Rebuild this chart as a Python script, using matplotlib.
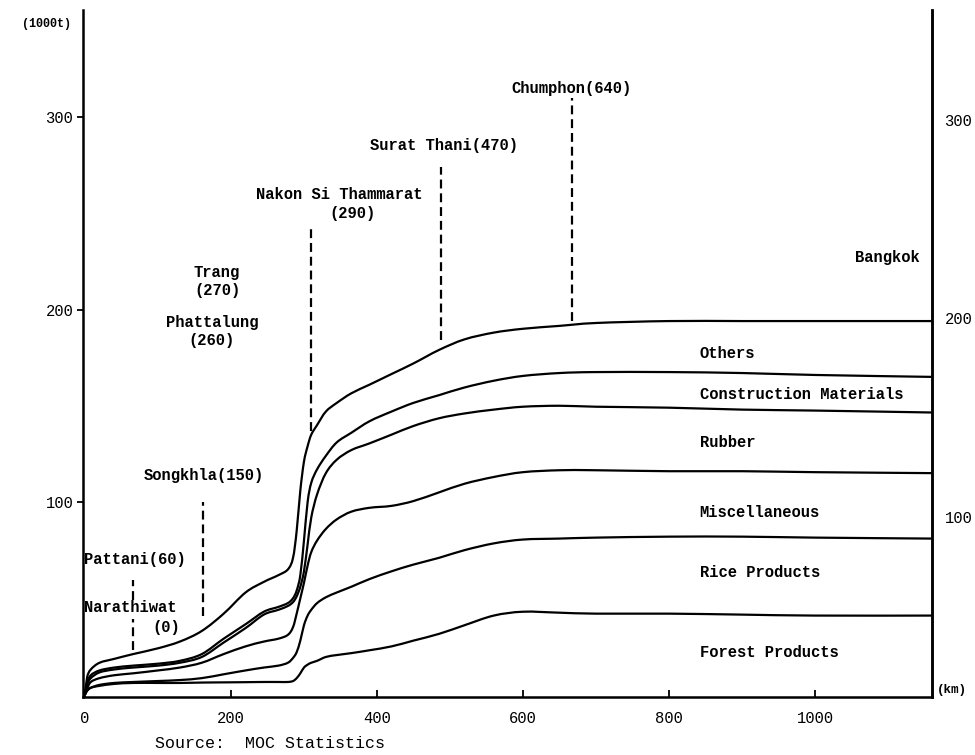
"""
Cumulative freight flow along the southern line, Narathiwat -> Bangkok.
Saves out.png (975x755).
"""

import matplotlib.pyplot as plt
import matplotlib as mpl
import numpy as np
from matplotlib.path import Path
from matplotlib.patches import PathPatch

mpl.rcParams["font.family"] = ["Liberation Mono", "DejaVu Sans Mono"]

# distance from Narathiwat (km), shared by all cumulative curves
km = [0, 3, 8, 20, 40, 66, 100, 130, 160, 190, 220, 245, 265, 278, 285, 290,
      295, 300, 305, 310, 318, 330, 345, 365, 390, 420, 450, 485, 520, 560,
      600, 650, 700, 800, 900, 1000, 1160]

# cumulative tonnage (1000 t), top edge of each commodity band
others = [0, 9, 13, 16.5, 18.5, 21, 24, 27.5, 33, 42, 53, 58.5, 62, 65, 71, 85,
          106, 121, 129, 135, 140, 147, 151.5, 156.5, 161, 166.5, 172, 179, 184.5, 188,
          190, 191.5, 193, 194, 194, 194, 194]
construction = [0, 6, 10, 12.5, 14, 15, 16, 17.5, 21, 29, 36.5, 43, 45.5, 47.5, 50, 54,
                62, 80, 100, 110, 117, 124, 131, 136, 142, 147, 151.5, 155.5, 159.5, 163,
                165.5, 167, 167.5, 167.5, 167, 166, 165]
rubber = [0, 5, 8.5, 11.5, 13, 14, 15, 16.5, 19.5, 27, 34.5, 41.5, 44, 46, 48, 51,
          56, 64, 78, 92, 104, 115, 122, 127, 130.5, 135, 139.5, 143.5, 146, 148,
          149.5, 150, 149.5, 149, 148, 147.5, 146.5]
misc = [0, 3, 6.5, 8.5, 10, 11, 12.5, 14, 16.5, 21, 25, 27.5, 29, 31, 35, 42,
        50, 58, 67, 74, 80, 86, 91, 95, 97, 98, 100.5, 105, 109.5, 113,
        115.5, 116.5, 116.5, 116, 116, 115.5, 115]
rice = [0, 2, 3.5, 5, 6, 6.5, 7, 7.5, 8.5, 10.5, 12.5, 14, 15, 16.5, 19, 22,
        28, 36, 41, 44, 47.5, 50.5, 53, 56, 60, 64, 67.5, 71, 75, 78.5,
        80.5, 81, 81.5, 82, 82, 81.5, 81]
forest = [0, 2, 3.5, 4.5, 5.5, 6, 6, 6, 6.2, 6.3, 6.4, 6.5, 6.5, 6.5, 7, 8.5,
          11, 14, 15.5, 16.5, 17.5, 19.5, 20.5, 21.5, 23, 25, 28, 31.5, 36, 41,
          43, 42.5, 42, 42, 41.5, 41, 41]

band_names = ["Others", "Construction Materials", "Rubber",
              "Miscellaneous", "Rice Products", "Forest Products"]
band_label_y = [177, 156, 131, 94.5, 63.4, 21.9]

# stations marked with dashed lines (Pattani's line is broken by the Narathiwat label)
town_km = [66, 66, 162, 310, 488, 667]
dash_top = [59.5, 39, 100, 243, 274, 310]
dash_bot = [49, 23, 41, 137, 184, 194]

FS = 11.2


def smooth_path(xs, ys):
    # Catmull-Rom through the points, drawn as cubic Bezier segments
    p = np.column_stack([xs, ys]).astype(float)
    p_ext = np.vstack([p[0], p, p[-1]])
    verts = [p[0]]
    codes = [Path.MOVETO]
    for i in range(1, len(p_ext) - 2):
        p0, p1, p2, p3 = p_ext[i - 1], p_ext[i], p_ext[i + 1], p_ext[i + 2]
        c1 = p1 + (p2 - p0) / 6
        c2 = p2 - (p3 - p1) / 6
        verts += [c1, c2, p2]
        codes += [Path.CURVE4] * 3
    return Path(verts, codes)


fig = plt.figure(figsize=(9.75, 7.55), dpi=100)
ax = fig.add_axes([83 / 975, 1 - 697 / 755, (932 - 83) / 975, (697 - 10) / 755])

for ys in [others, construction, rubber, misc, rice, forest]:
    ax.add_patch(PathPatch(smooth_path(km, ys), facecolor="none",
                           edgecolor="black", lw=1.6))

for x, y0, y1 in zip(town_km, dash_bot, dash_top):
    ax.plot([x, x], [y0, y1], color="black", lw=1.6, linestyle=(0, (4, 2.2)))

ax.set_xlim(-2.7, 1160.3)
ax.set_ylim(-1.3, 355.6)

ax.spines["top"].set_visible(False)
for s in ["left", "right", "bottom"]:
    ax.spines[s].set_linewidth(1.8)

ax.set_xticks([0, 200, 400, 600, 800, 1000])
ax.tick_params(axis="x", direction="in", length=5, width=1.3, pad=10, labelsize=FS)
ax.set_yticks([100, 200, 300])
ax.tick_params(axis="y", direction="out", length=4, width=1.3, pad=3, labelsize=FS)

ax2 = ax.twinx()
ax2.set_ylim(9.3, 355.4)
ax2.set_yticks([100, 200, 300])
ax2.tick_params(axis="y", direction="out", length=0, pad=9, labelsize=FS)
for s in ["top", "left", "bottom"]:
    ax2.spines[s].set_visible(False)
ax2.spines["right"].set_linewidth(1.8)

txt = dict(fontsize=FS, fontweight="bold", color="black")
for name, y in zip(band_names, band_label_y):
    ax.text(842, y, name, ha="left", va="center", **txt)
ax.text(1099, 227, "Bangkok", ha="center", va="center", **txt)

ax.text(667, 315, "Chumphon(640)", ha="center", va="center", **txt)
ax.text(492, 285, "Surat Thani(470)", ha="center", va="center", **txt)
ax.text(348, 260, "Nakon Si Thammarat", ha="center", va="center", **txt)
ax.text(367, 250, "(290)", ha="center", va="center", **txt)
ax.text(181, 219, "Trang", ha="center", va="center", **txt)
ax.text(181, 210, "(270)", ha="center", va="center", **txt)
ax.text(174, 193, "Phattalung", ha="center", va="center", **txt)
ax.text(174, 184, "(260)", ha="center", va="center", **txt)
ax.text(163, 114, "Songkhla(150)", ha="center", va="center", **txt)
ax.text(-1.4, 70, "Pattani(60)", ha="left", va="center", **txt)
ax.text(-1.4, 45, "Narathiwat", ha="left", va="center", **txt)
ax.text(112, 35, "(0)", ha="center", va="center", **txt)

fig.text(0.048, 0.968, "(1000t)", ha="center", va="center", fontsize=8.5, fontweight="bold")
fig.text(0.976, 0.086, "(km)", ha="center", va="center", fontsize=9, fontweight="bold")
fig.text(155 / 975, 1 - 743 / 755, "Source:  MOC Statistics", ha="left", va="center",
         fontsize=12)

fig.savefig("out.png", dpi=100)
